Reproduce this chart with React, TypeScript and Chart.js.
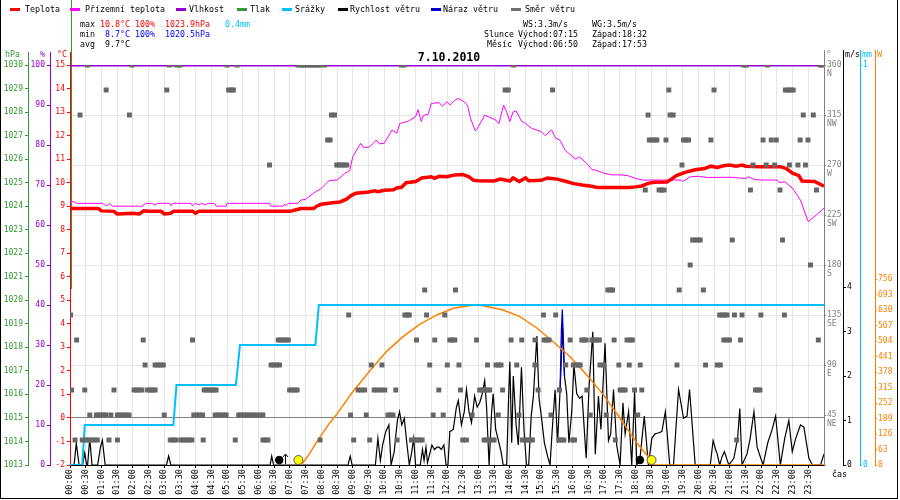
import React, { useEffect, useRef } from "react";
import { Chart, registerables } from "chart.js";

Chart.register(...registerables);

// ---------------- DATA ----------------
const chartDate = "7.10.2010";

const timeTickValues = [
  0, 0.5, 1, 1.5, 2, 2.5, 3, 3.5, 4, 4.5, 5, 5.5, 6, 6.5, 7, 7.5, 8, 8.5, 9, 9.5, 10, 10.5, 11, 11.5,
  12, 12.5, 13, 13.5, 14, 14.5, 15, 15.5, 16, 16.5, 17, 17.5, 18, 18.5, 19, 19.5, 20, 20.5, 21, 21.5,
  22, 22.5, 23, 23.5,
];
const timeTickLabels = [
  "00:00", "00:30", "01:00", "01:30", "02:00", "02:30", "03:00", "03:30", "04:00", "04:30", "05:00", "05:30",
  "06:00", "06:30", "07:00", "07:30", "08:00", "08:30", "09:00", "09:30", "10:00", "10:30", "11:00", "11:30",
  "12:00", "12:30", "13:00", "13:30", "14:00", "14:30", "15:00", "15:30", "16:00", "16:30", "17:00", "17:30",
  "18:00", "18:30", "19:00", "19:30", "20:00", "20:30", "21:00", "21:30", "22:00", "22:30", "23:00", "23:30",
];

// [hour, °C]
const temperature: [number, number][] = [
  [0, 8.9], [0.5, 8.9], [0.9, 8.9], [1.0, 8.8], [1.4, 8.78], [1.5, 8.67], [2.0, 8.7], [2.2, 8.67], [2.35, 8.8],
  [2.5, 8.78], [2.9, 8.78], [3.0, 8.67], [3.2, 8.7], [3.3, 8.78], [3.9, 8.78], [4.0, 8.7], [4.1, 8.78],
  [5.0, 8.78], [6.0, 8.78], [7.0, 8.78], [7.2, 8.85], [7.35, 8.9], [7.75, 8.9], [7.85, 9.0], [8.0, 9.08],
  [8.35, 9.15], [8.6, 9.18], [8.8, 9.3], [8.95, 9.45], [9.1, 9.55], [9.5, 9.6], [9.7, 9.65], [9.8, 9.62],
  [10.0, 9.68], [10.3, 9.7], [10.4, 9.77], [10.55, 9.8], [10.7, 10.0], [11.0, 10.05], [11.2, 10.2],
  [11.5, 10.25], [11.6, 10.18], [11.75, 10.27], [12.0, 10.25], [12.25, 10.33], [12.5, 10.35], [12.7, 10.25],
  [12.85, 10.1], [13.0, 10.08], [13.5, 10.07], [13.7, 10.15], [14.0, 10.07], [14.1, 10.2], [14.3, 10.05],
  [14.5, 10.2], [14.6, 10.08], [15.0, 10.1], [15.2, 10.2], [15.5, 10.15], [15.8, 10.05], [16.0, 9.97],
  [16.3, 9.9], [16.6, 9.85], [16.8, 9.79], [17.8, 9.79], [18.0, 9.82], [18.2, 9.86], [18.4, 9.97],
  [18.6, 10.02], [19.0, 10.03], [19.15, 10.15], [19.3, 10.3], [19.6, 10.45], [19.9, 10.55], [20.2, 10.6],
  [20.4, 10.7], [20.6, 10.65], [20.8, 10.72], [21.0, 10.75], [21.2, 10.7], [21.4, 10.75], [21.5, 10.7],
  [22.0, 10.68], [22.6, 10.68], [22.8, 10.6], [23.0, 10.4], [23.2, 10.3], [23.3, 10.07], [23.7, 10.05],
  [24.0, 9.85],
];

// [hour, °C]
const groundTemperature: [number, number][] = [
  [0, 9.17], [0.12, 9.2], [0.2, 9.12], [1.05, 9.12], [1.12, 9.02], [1.2, 9.05], [1.27, 9.12], [1.35, 9.0],
  [2.2, 9.0], [2.25, 8.97], [2.41, 9.12], [2.6, 9.12], [2.7, 9.05], [2.8, 9.12], [3.16, 9.12], [3.22, 9.02],
  [3.27, 9.12], [3.85, 9.12], [3.9, 9.02], [4.0, 9.12], [4.1, 9.05], [4.2, 9.12], [4.3, 9.05], [4.4, 9.12],
  [4.6, 9.12], [4.65, 9.0], [4.97, 9.0], [5.0, 9.12], [6.35, 9.12], [6.4, 9.0], [6.78, 9.0], [6.83, 9.08],
  [6.88, 9.02], [6.95, 9.12], [7.25, 9.12], [7.35, 9.26], [7.5, 9.29], [7.75, 9.55], [8.0, 9.76],
  [8.25, 10.09], [8.5, 10.11], [8.75, 10.4], [8.9, 10.5], [9.0, 11.1], [9.25, 11.67], [9.35, 11.5],
  [9.5, 11.5], [9.6, 11.6], [9.75, 11.81], [9.85, 11.65], [10.0, 11.67], [10.25, 12.24], [10.4, 12.1],
  [10.5, 12.52], [10.75, 12.6], [11.0, 12.8], [11.08, 13.1], [11.18, 12.6], [11.25, 12.87], [11.4, 12.9],
  [11.5, 13.37], [11.75, 13.4], [11.85, 13.25], [12.0, 13.44], [12.1, 13.3], [12.25, 13.5], [12.35, 13.58],
  [12.5, 13.48], [12.65, 13.3], [12.75, 12.73], [12.9, 12.2], [13.0, 12.38], [13.2, 12.87], [13.4, 12.75],
  [13.55, 12.66], [13.65, 12.5], [13.8, 13.3], [13.9, 13.0], [14.0, 12.6], [14.1, 13.0], [14.2, 13.05],
  [14.38, 12.6], [14.5, 12.52], [14.69, 12.31], [15.0, 12.17], [15.12, 12.0], [15.33, 12.24], [15.45, 11.9],
  [15.6, 11.8], [15.76, 11.38], [16.0, 11.1], [16.1, 11.0], [16.2, 11.1], [16.3, 11.0], [16.5, 10.75],
  [16.61, 10.55], [16.75, 10.53], [17.0, 10.4], [17.25, 10.33], [17.5, 10.33], [17.75, 10.3], [18.0, 10.18],
  [18.25, 10.11], [19.45, 10.11], [19.5, 10.05], [19.75, 10.25], [20.0, 10.27], [20.3, 10.22], [21.0, 10.23],
  [21.5, 10.18], [21.6, 10.25], [21.75, 10.15], [22.0, 10.11], [22.5, 10.11], [22.6, 10.0], [22.75, 10.04],
  [23.0, 9.76], [23.25, 9.26], [23.5, 8.34], [23.75, 8.62], [24.0, 8.91],
];

// [hour, %]
const humidity: [number, number][] = [[0, 100], [6, 100], [12, 100], [18, 100], [24, 100]];

// [hour, hPa]
const pressure: [number, number][] = [[0.048, 1033.2], [0.048, 1020.5]];

// [hour, mm] cumulative
const precipitation: [number, number][] = [
  [0, 0], [0.39, 0], [0.47, 0.1], [3.29, 0.1], [3.39, 0.2], [5.28, 0.2], [5.41, 0.3], [7.81, 0.3],
  [7.92, 0.4], [24, 0.4],
];

// [hour, m/s]
const windSpeed: [number, number][] = [
  [0, 0], [0.13, 0], [0.2, 0.49], [0.29, 0], [0.4, 0], [0.47, 0.27], [0.53, 0], [0.56, 0], [0.63, 0.6],
  [0.7, 0], [0.88, 0], [0.97, 0.4], [1.03, 0.56], [1.12, 0], [3.07, 0], [3.14, 0.2], [3.21, 0], [6.37, 0],
  [6.42, 0.2], [6.48, 0], [8.85, 0], [8.92, 0.2], [8.98, 0], [9.72, 0], [9.8, 0.6], [9.88, 0.1], [9.95, 0.45],
  [10.05, 0.75], [10.15, 0.9], [10.22, 0], [10.32, 0.3], [10.42, 1.0], [10.49, 1.2], [10.56, 0.9],
  [10.64, 1.05], [10.72, 0.5], [10.8, 0], [10.88, 0.3], [10.94, 0.6], [11.0, 0], [11.15, 0], [11.22, 0.35],
  [11.27, 0.1], [11.33, 0.4], [11.38, 0.05], [11.45, 0.25], [11.52, 0.45], [11.6, 0.35], [11.68, 0.4],
  [11.75, 0.4], [11.82, 0.35], [11.9, 0.45], [11.97, 0], [12.03, 0], [12.09, 0.75], [12.2, 0.8], [12.3, 1.3],
  [12.36, 1.45], [12.46, 0.9], [12.55, 1.2], [12.62, 1.7], [12.7, 1.2], [12.78, 0.95], [12.88, 1.55],
  [12.96, 1.3], [13.04, 1.4], [13.12, 1.6], [13.2, 1.9], [13.26, 1.3], [13.34, 0], [13.42, 1.2], [13.47, 1.6],
  [13.55, 0.8], [13.62, 0.6], [13.72, 0.3], [13.79, 0], [13.9, 0], [13.96, 1.5], [14.0, 2.32], [14.06, 0.5],
  [14.11, 2.0], [14.2, 0.9], [14.27, 0.45], [14.37, 2.2], [14.45, 0.8], [14.53, 0], [14.6, 0], [14.68, 1.1],
  [14.75, 1.55], [14.86, 2.9], [14.93, 1.5], [15.01, 1.05], [15.1, 0.5], [15.2, 0.2], [15.28, 0],
  [15.35, 0.8], [15.44, 1.69], [15.52, 0.5], [15.6, 1.7], [15.68, 3.1], [15.74, 2.0], [15.81, 1.6],
  [15.88, 0.5], [15.97, 1.2], [16.04, 2.25], [16.13, 1.6], [16.22, 1.5], [16.3, 1.55], [16.43, 0.15],
  [16.52, 1.74], [16.64, 3.0], [16.72, 0.24], [16.82, 1.55], [16.9, 0.8], [17.03, 2.74], [17.14, 0.55],
  [17.21, 0.7], [17.3, 1.7], [17.4, 0.45], [17.51, 0], [17.6, 1.4], [17.67, 0.7], [17.78, 1.2], [17.88, 0],
  [17.97, 1.65], [18.04, 0], [18.15, 0.2], [18.28, 1.1], [18.41, 0], [18.52, 0.6], [18.62, 0.7],
  [18.72, 0.72], [18.84, 0.75], [18.95, 1.2], [19.09, 0], [19.21, 0], [19.37, 1.7], [19.53, 1.05],
  [19.64, 1.1], [19.72, 1.7], [19.9, 0], [20.38, 0], [20.47, 0.55], [20.55, 0.35], [20.6, 0.25], [20.68, 0],
  [20.76, 0.2], [20.83, 0.3], [20.9, 0.15], [20.97, 0], [21.13, 0.15], [21.25, 0.6], [21.32, 1.27],
  [21.39, 0], [21.55, 0.25], [21.65, 0.6], [21.77, 1.2], [21.87, 0.4], [22.06, 0], [22.21, 0.5],
  [22.35, 0.8], [22.46, 1.1], [22.61, 0], [22.75, 0.6], [22.88, 1.0], [22.99, 0.3], [23.1, 0.6],
  [23.25, 0.9], [23.36, 0.85], [23.52, 0.15], [23.63, 0], [23.89, 0], [24, 0.25],
];

// [hour, m/s]
const windGust: [number, number][] = [[15.6, 1.7], [15.64, 3.0], [15.67, 3.5], [15.7, 2.9], [15.74, 2.0]];

// [hour, W/m²]
const solarRadiation: [number, number][] = [
  [7.36, 0], [7.6, 41], [7.86, 95], [8.26, 170], [8.47, 203], [9.0, 298], [9.54, 382], [10.07, 461],
  [10.6, 522], [11.13, 572], [11.67, 610], [12.2, 637], [12.5, 643], [12.95, 652], [13.3, 643], [13.79, 630],
  [14.32, 603], [14.85, 558], [15.38, 501], [15.92, 440], [16.45, 366], [16.98, 285], [17.51, 190],
  [18.05, 88], [18.36, 41], [18.52, 0], [24, 0],
];

// wind direction samples, grouped by direction (degrees) -> hours
const dirN = [0.56, 1.97, 3.16, 3.4, 3.5, 5.0, 5.32, 7.25, 7.33, 7.41, 7.49, 7.57, 7.65, 7.73, 7.81, 7.89, 7.95, 8.1, 10.55, 10.63, 14.12, 21.45, 21.53, 22.2, 23.88, 23.95];
const dirNNW = [1.15, 3.08, 5.05, 5.15, 5.2, 13.85, 13.95, 15.36, 19.06, 20.5, 22.77, 22.85, 22.93, 23.02];
const dirNW = [0.32, 1.89, 8.32, 8.42, 18.4, 19.1, 19.2, 23.34, 23.66];
const dirWNW = [8.2, 8.28, 18.44, 18.52, 18.6, 18.68, 18.97, 19.53, 19.61, 19.69, 20.4, 22.06, 22.32, 22.48, 23.24, 23.49];
const dirW = [6.35, 8.49, 8.57, 8.65, 8.73, 8.81, 19.48, 21.74, 22.16, 22.43, 22.9, 23.17, 23.41];
const dirWSW = [18.31, 18.75, 18.83, 18.91, 21.66, 22.6, 23.76];
const dirSSW = [19.82, 19.9, 19.98, 20.06, 21.08, 22.68];
const dirS = [19.74, 23.57];
const dirSSE = [11.29, 12.27, 17.12, 17.2, 17.27, 19.39, 20.16];
const dirSE = [0.02, 8.87, 10.66, 10.74, 10.8, 11.35, 11.93, 15.07, 15.46, 20.68, 20.76, 20.84, 20.91, 21.15, 21.39, 21.99, 22.74];
const dirESE = [0.21, 2.33, 3.9, 6.63, 6.71, 6.79, 6.87, 6.95, 11.03, 11.61, 12.09, 12.17, 12.25, 12.94, 14.04, 14.38, 14.8, 15.09, 15.17, 15.25, 15.92, 16.29, 16.36, 16.43, 16.61, 16.69, 16.77, 16.85, 17.32, 17.73, 17.82, 17.9, 20.81, 20.9, 20.99, 21.34, 23.82];
const dirE = [2.39, 2.71, 2.8, 2.89, 2.97, 6.4, 6.49, 6.58, 6.67, 9.59, 9.93, 11.45, 12.01, 12.38, 13.29, 13.56, 13.64, 13.72, 14.22, 14.8, 15.78, 16.02, 16.1, 16.18, 16.24, 16.87, 16.98, 17.47, 17.8, 18.15, 19.32, 20.23, 20.6, 20.7];
const dirENE = [0.05, 0.47, 1.4, 2.04, 2.12, 2.2, 2.29, 2.47, 2.55, 2.63, 2.71, 4.27, 4.35, 4.43, 4.51, 4.58, 4.65, 6.99, 7.07, 7.15, 7.23, 9.17, 9.27, 9.38, 9.68, 9.78, 9.89, 10.02, 10.37, 11.74, 12.43, 13.04, 13.12, 13.2, 13.28, 13.36, 13.77, 14.9, 15.58, 16.45, 17.51, 17.59, 17.67, 17.97, 18.2, 21.82, 21.9, 21.96];
const dirNE = [0.63, 0.84, 0.92, 1.0, 1.07, 1.14, 1.3, 1.51, 1.6, 1.69, 1.78, 1.88, 3.0, 3.94, 4.03, 4.12, 4.22, 4.62, 4.7, 4.79, 4.88, 4.97, 5.37, 5.45, 5.53, 5.61, 5.7, 5.78, 5.86, 5.95, 6.04, 6.14, 8.93, 9.43, 10.12, 10.2, 10.28, 11.56, 11.88, 12.8, 13.63, 14.29, 15.31, 16.56, 17.07, 18.07];
const dirNNE = [0.16, 0.39, 0.5, 0.59, 0.68, 0.77, 0.87, 1.24, 1.51, 3.19, 3.28, 3.37, 3.53, 3.62, 3.71, 3.8, 3.88, 4.24, 5.26, 6.14, 6.22, 6.3, 7.96, 9.03, 9.54, 10.41, 10.87, 10.95, 11.04, 11.12, 11.21, 12.5, 12.62, 13.18, 13.26, 13.4, 13.5, 14.4, 14.48, 14.56, 14.64, 14.72, 15.56, 15.64, 15.72, 16.0, 16.06, 17.36, 21.22];

const windDirectionRows: [number, number[]][] = [
  [360, dirN], [337.5, dirNNW], [315, dirNW], [292.5, dirWNW], [270, dirW], [247.5, dirWSW],
  [202.5, dirSSW], [180, dirS], [157.5, dirSSE], [135, dirSE], [112.5, dirESE], [90, dirE],
  [67.5, dirENE], [45, dirNE], [22.5, dirNNE],
];

// sun / moon symbols: [hour, kind]
const sunMoonEvents: [number, string][] = [[6.66, "moon"], [7.27, "sun"], [18.14, "moon"], [18.51, "sun"]];
const moonRiseHour = 6.84;

// axis ticks
const pressureTicks = [1013, 1014, 1015, 1016, 1017, 1018, 1019, 1020, 1021, 1022, 1023, 1024, 1025, 1026, 1027, 1028, 1029, 1030];
const humidityTicks = [0, 10, 20, 30, 40, 50, 60, 70, 80, 90, 100];
const temperatureTicks = [-2, -1, 0, 1, 2, 3, 4, 5, 6, 7, 8, 9, 10, 11, 12, 13, 14, 15];
const directionTicks = [0, 45, 90, 135, 180, 225, 270, 315, 360];
const directionNames = ["", "NE", "E", "SE", "S", "SW", "W", "NW", "N"];
const windTicks = [0, 1, 2, 3, 4];
const rainTicks = [0, 1];
const solarTicks = [0, 63, 126, 189, 252, 315, 378, 441, 504, 567, 630, 693, 756];

const legendLabels = ["Teplota", "Přízemní teplota", "Vlhkost", "Tlak", "Srážky", "Rychlost větru", "Náraz větru", "Směr větru"];

// ---------------- STYLE / LAYOUT ----------------
const MONO = "'DejaVu Sans Mono', monospace";
const COL = {
  temp: "#ff0000",
  ground: "#ff00ff",
  hum: "#9400d3",
  press: "#339933",
  rain: "#00bfff",
  wind: "#000000",
  gust: "#0000cc",
  dir: "#666666",
  solar: "#ff8000",
  axisGray: "#808080",
  grid: "#e6e6e6",
  minBlue: "#0000ff",
};
const legendColors = [COL.temp, COL.ground, COL.hum, COL.press, COL.rain, COL.wind, COL.gust, "#707070"];
const legendDashX = [10, 70, 176, 237, 282, 338, 431, 511];
const legendTextX = [25, 85, 189, 250, 295, 350, 443, 525];
const markerLevel = -1.79;

type InfoText = { t: string; x: number; y: number; c: string };
const infoTexts: InfoText[] = [
  { t: "max", x: 80, y: 27, c: "#000" },
  { t: "10.8°C", x: 100, y: 27, c: COL.temp },
  { t: "100%", x: 135, y: 27, c: COL.temp },
  { t: "1023.9hPa", x: 165, y: 27, c: COL.temp },
  { t: "0.4mm", x: 225, y: 27, c: COL.rain },
  { t: "min", x: 80, y: 37, c: "#000" },
  { t: "8.7°C", x: 105, y: 37, c: COL.minBlue },
  { t: "100%", x: 135, y: 37, c: COL.minBlue },
  { t: "1020.5hPa", x: 165, y: 37, c: COL.minBlue },
  { t: "avg", x: 80, y: 47, c: "#000" },
  { t: "9.7°C", x: 105, y: 47, c: "#000" },
  { t: "WS:3.3m/s", x: 523, y: 27, c: "#000" },
  { t: "WG:3.5m/s", x: 592, y: 27, c: "#000" },
  { t: "Slunce", x: 484, y: 37, c: "#000" },
  { t: "Východ:07:15", x: 518, y: 37, c: "#000" },
  { t: "Západ:18:32", x: 592, y: 37, c: "#000" },
  { t: "Měsíc", x: 487, y: 47, c: "#000" },
  { t: "Východ:06:50", x: 518, y: 47, c: "#000" },
  { t: "Západ:17:53", x: 592, y: 47, c: "#000" },
];

const axisTitles = [
  { id: "yP", t: "hPa", x: 5, c: COL.press },
  { id: "yH", t: "%", x: 40, c: COL.hum },
  { id: "yT", t: "°C", x: 57, c: COL.temp },
  { id: "yD", t: "°", x: 826, c: COL.axisGray },
  { id: "yWs", t: "m/s", x: 845, c: "#000" },
  { id: "yR", t: "mm", x: 862, c: COL.rain },
  { id: "yS", t: "W", x: 877, c: COL.solar },
];

const xy = (pts: [number, number][]) => pts.map(([x, y]) => ({ x, y }));
const setTicks = (vals: number[]) => (scale: any) => {
  scale.ticks = vals.map((v) => ({ value: v }));
};
const plain = (v: number) => String(v);
const tickFont = { family: MONO, size: 8 };

const overlayPlugin = {
  id: "overlay",
  afterDraw(chart: any) {
    const { ctx, chartArea, scales } = chart;
    ctx.save();
    ctx.textBaseline = "alphabetic";
    ctx.textAlign = "left";
    ctx.font = `8.3px ${MONO}`;

    // legend
    legendLabels.forEach((label, i) => {
      ctx.fillStyle = legendColors[i];
      ctx.fillRect(legendDashX[i], 8, 10, 3);
      ctx.fillStyle = "#000";
      ctx.fillText(label, legendTextX[i], 12);
    });

    // info block
    infoTexts.forEach((it) => {
      ctx.fillStyle = it.c;
      ctx.fillText(it.t, it.x, it.y);
    });

    // axis titles + axis line extensions
    axisTitles.forEach((a) => {
      ctx.fillStyle = a.c;
      ctx.fillText(a.t, a.x, 57);
      const s = scales[a.id];
      const edge = s.position === "left" ? s.right : s.left;
      const px = Math.round(edge - 0.5) + 0.5;
      ctx.strokeStyle = a.c;
      ctx.lineWidth = 1;
      ctx.beginPath();
      ctx.moveTo(px, s.position === "left" ? 52 : 50);
      ctx.lineTo(px, chartArea.top);
      ctx.stroke();
    });

    // x axis title
    ctx.fillStyle = "#000";
    ctx.fillText("čas", 832, 477);

    // moonrise arrow
    const ax = Math.round(scales.x.getPixelForValue(moonRiseHour)) + 0.5;
    ctx.strokeStyle = "#000";
    ctx.lineWidth = 1;
    ctx.beginPath();
    ctx.moveTo(ax, chartArea.bottom - 1);
    ctx.lineTo(ax, chartArea.bottom - 11);
    ctx.moveTo(ax - 2.5, chartArea.bottom - 8);
    ctx.lineTo(ax, chartArea.bottom - 11);
    ctx.lineTo(ax + 2.5, chartArea.bottom - 8);
    ctx.stroke();

    // title
    ctx.font = `bold 11.5px ${MONO}`;
    ctx.textAlign = "center";
    ctx.fillStyle = "#000";
    ctx.fillText(chartDate, 449, 61);
    ctx.restore();
  },
};

function buildConfig(): any {
  const directionPoints: { x: number; y: number }[] = [];
  windDirectionRows.forEach(([deg, hours]) => hours.forEach((h) => directionPoints.push({ x: h, y: deg })));

  const lineBase = { pointRadius: 0, pointHoverRadius: 0, fill: false, tension: 0 };

  return {
    type: "line",
    data: {
      datasets: [
        {
          label: "sun/moon",
          data: sunMoonEvents.map(([h]) => ({ x: h, y: markerLevel })),
          yAxisID: "yT",
          showLine: false,
          pointStyle: "circle",
          pointRadius: sunMoonEvents.map(([, k]) => (k === "sun" ? 4.5 : 3.8)),
          pointBackgroundColor: sunMoonEvents.map(([, k]) => (k === "sun" ? "#ffff00" : "#000000")),
          pointBorderColor: sunMoonEvents.map(([, k]) => (k === "sun" ? "#555555" : "#000000")),
          pointBorderWidth: 1,
          order: 0,
        },
        {
          label: "Směr větru",
          data: directionPoints,
          yAxisID: "yD",
          showLine: false,
          pointStyle: "rect",
          pointRadius: 3.5,
          pointBackgroundColor: COL.dir,
          pointBorderWidth: 0,
          order: 1,
        },
        { ...lineBase, label: "Teplota", data: xy(temperature), yAxisID: "yT", borderColor: COL.temp, borderWidth: 3.5, order: 2 },
        { ...lineBase, label: "Přízemní teplota", data: xy(groundTemperature), yAxisID: "yT", borderColor: COL.ground, borderWidth: 1, order: 3 },
        { ...lineBase, label: "Srážky", data: xy(precipitation), yAxisID: "yR", borderColor: COL.rain, borderWidth: 2, order: 4 },
        { ...lineBase, label: "Sluneční záření", data: xy(solarRadiation), yAxisID: "yS", borderColor: COL.solar, borderWidth: 1.5, order: 5 },
        { ...lineBase, label: "Náraz větru", data: xy(windGust), yAxisID: "yWs", borderColor: COL.gust, borderWidth: 1.3, order: 6 },
        { ...lineBase, label: "Rychlost větru", data: xy(windSpeed), yAxisID: "yWs", borderColor: COL.wind, borderWidth: 1.2, order: 7 },
        { ...lineBase, label: "Vlhkost", data: xy(humidity), yAxisID: "yH", borderColor: COL.hum, borderWidth: 3, order: 8 },
        { ...lineBase, label: "Tlak", data: xy(pressure), yAxisID: "yP", borderColor: COL.press, borderWidth: 1, order: 9, clip: false },
      ],
    },
    options: {
      responsive: false,
      animation: false,
      events: [],
      layout: { padding: { top: 65, left: 0, right: 0, bottom: 0 } },
      plugins: { legend: { display: false }, tooltip: { enabled: false }, title: { display: false } },
      scales: {
        x: {
          type: "linear",
          position: "bottom",
          min: 0,
          max: 24,
          afterBuildTicks: setTicks(timeTickValues),
          afterFit: (s: any) => { s.height = 35; },
          ticks: {
            autoSkip: false,
            minRotation: 90,
            maxRotation: 90,
            padding: 1,
            color: "#000",
            font: { family: MONO, size: 8.6 },
            callback: (_v: any, i: number) => timeTickLabels[i],
          },
          grid: { color: COL.grid, lineWidth: 1, tickLength: 3, tickColor: "#000" },
          border: { color: "#000", width: 1 },
        },
        yP: {
          type: "linear", position: "left", weight: 3, min: 1013, max: 1030,
          afterBuildTicks: setTicks(pressureTicks),
          afterFit: (s: any) => { s.width = 28; },
          ticks: { color: COL.press, font: tickFont, padding: 2, callback: plain },
          grid: { drawOnChartArea: false, tickLength: 3, tickColor: COL.press },
          border: { color: COL.press },
        },
        yH: {
          type: "linear", position: "left", weight: 2, min: 0, max: 100,
          afterBuildTicks: setTicks(humidityTicks),
          afterFit: (s: any) => { s.width = 22; },
          ticks: { color: COL.hum, font: tickFont, padding: 2, callback: plain },
          grid: { drawOnChartArea: false, tickLength: 3, tickColor: COL.hum },
          border: { color: COL.hum },
        },
        yT: {
          type: "linear", position: "left", weight: 1, min: -2, max: 15,
          afterBuildTicks: setTicks(temperatureTicks),
          afterFit: (s: any) => { s.width = 20; },
          ticks: { color: COL.temp, font: tickFont, padding: 2, callback: plain },
          grid: {
            drawOnChartArea: true,
            color: (c: any) => (c.tick && c.tick.value === 0 ? "#808080" : "rgba(0,0,0,0)"),
            tickLength: 3,
            tickColor: COL.temp,
          },
          border: { color: COL.temp },
        },
        yD: {
          type: "linear", position: "right", weight: 1, min: 0, max: 360,
          afterBuildTicks: setTicks(directionTicks),
          afterFit: (s: any) => { s.width = 19; },
          ticks: {
            color: COL.axisGray,
            font: tickFont,
            padding: 1,
            labelOffset: 4.5,
            callback: (v: number, i: number) => (v === 0 ? "" : [String(v), directionNames[i]]),
          },
          grid: {
            drawOnChartArea: true,
            color: (c: any) => (c.tick && (c.tick.value === 0 || c.tick.value === 45 || c.tick.value === 360) ? "rgba(0,0,0,0)" : COL.grid),
            tickLength: 2,
            tickColor: COL.axisGray,
          },
          border: { color: COL.axisGray },
        },
        yWs: {
          type: "linear", position: "right", weight: 2, min: 0, max: 9,
          afterBuildTicks: setTicks(windTicks),
          afterFit: (s: any) => { s.width = 17; },
          ticks: { color: "#000", font: tickFont, padding: 1, callback: plain },
          grid: { drawOnChartArea: false, tickLength: 3, tickColor: "#000" },
          border: { color: "#000" },
        },
        yR: {
          type: "linear", position: "right", weight: 3, min: 0, max: 1,
          afterBuildTicks: setTicks(rainTicks),
          afterFit: (s: any) => { s.width = 15; },
          ticks: { color: COL.rain, font: tickFont, padding: 1, callback: plain },
          grid: { drawOnChartArea: false, tickLength: 2, tickColor: COL.rain },
          border: { color: COL.rain },
        },
        yS: {
          type: "linear", position: "right", weight: 4, min: 0, max: 1626,
          afterBuildTicks: setTicks(solarTicks),
          afterFit: (s: any) => { s.width = 25; },
          ticks: { color: COL.solar, font: tickFont, padding: 1, callback: plain },
          grid: { drawOnChartArea: false, tickLength: 2, tickColor: COL.solar },
          border: { color: COL.solar },
        },
      },
    },
    plugins: [overlayPlugin],
  };
}

export default function App() {
  const canvasRef = useRef<HTMLCanvasElement>(null);
  useEffect(() => {
    if (!canvasRef.current) return;
    const chart = new Chart(canvasRef.current, buildConfig());
    return () => chart.destroy();
  }, []);
  return (
    <div style={{ position: "absolute", left: 0, top: 0, width: 900, height: 500, background: "#ffffff" }}>
      <canvas ref={canvasRef} width={900} height={500} style={{ display: "block", width: 900, height: 500 }} />
      <div
        style={{
          position: "absolute",
          left: 0,
          top: 0,
          width: 898,
          height: 499,
          boxSizing: "border-box",
          borderLeft: "1px solid #000",
          borderRight: "1px solid #000",
          borderBottom: "1px solid #000",
          pointerEvents: "none",
        }}
      />
    </div>
  );
}
